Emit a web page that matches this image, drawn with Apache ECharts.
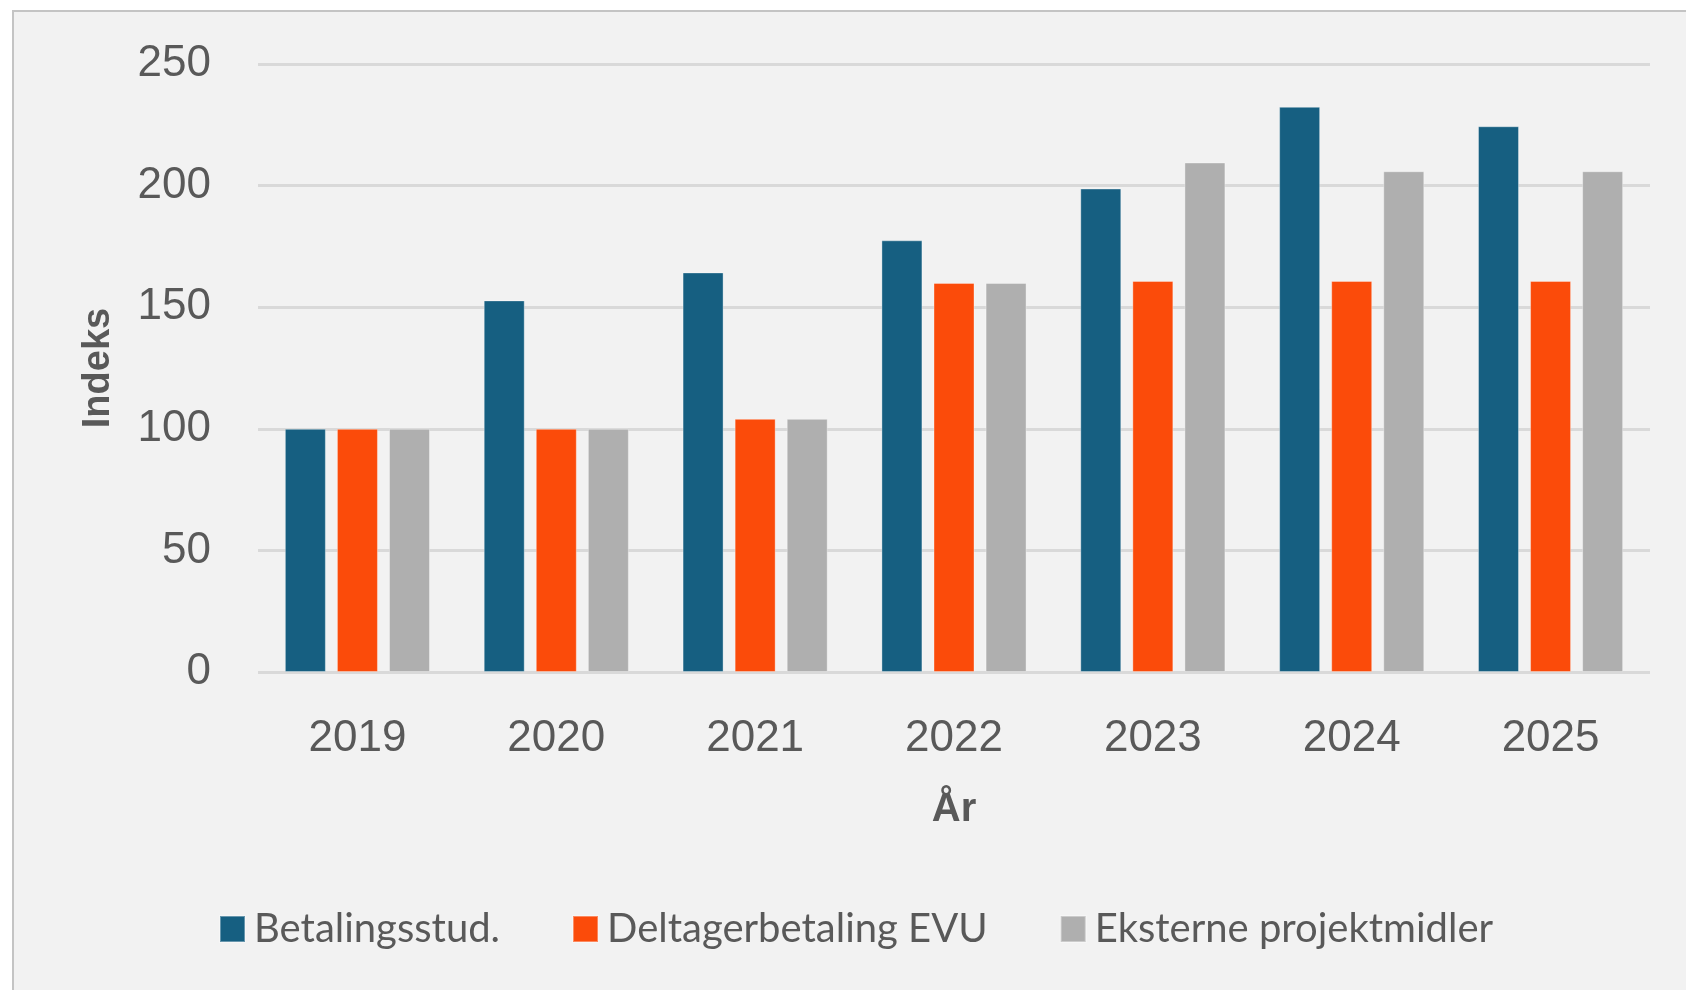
<!DOCTYPE html>
<html>
<head>
<meta charset="utf-8">
<script src="https://cdn.jsdelivr.net/npm/echarts@6/dist/echarts.min.js"></script>
<style>
  html, body { margin: 0; padding: 0; background: #ffffff; }
  #panel {
    position: absolute; left: 12px; top: 10px; width: 1690px; height: 1000px;
    background: #f2f2f2; border-left: 2px solid #c4c4c4; border-top: 2px solid #c4c4c4;
  }
  #chart { position: absolute; left: 0; top: 0; width: 1686px; height: 990px; }
</style>
</head>
<body>
<div id="panel"></div>
<div id="chart"></div>
<script>
const years = ["2019", "2020", "2021", "2022", "2023", "2024", "2025"];
const betalingsstud = [100, 152.8, 164.3, 177.5, 198.8, 232.4, 224.4];
const deltagerbetaling = [100, 100, 104.1, 160, 160.8, 160.8, 160.8];
const eksterne = [100, 100, 104.1, 160, 209.5, 205.9, 205.9];
const yTicks = [0, 50, 100, 150, 200, 250];

const textColor = "#595959";
const chart = echarts.init(document.getElementById("chart"), null, { renderer: "canvas" });

function bar(name, data, color) {
  return {
    name: name,
    type: "bar",
    data: data,
    barWidth: 41,
    barGap: "27%",
    itemStyle: { color: color, borderColor: "rgba(255,255,255,0.35)", borderWidth: 1 }
  };
}

chart.setOption({
  backgroundColor: "transparent",
  animation: false,
  grid: { left: 258, right: 36, top: 64, bottom: 318, containLabel: false },
  legend: {
    left: 214,
    top: 904,
    itemWidth: 25,
    itemHeight: 26,
    itemGap: 72,
    icon: "rect",
    textStyle: { color: textColor, fontFamily: "Lato", fontSize: 40, padding: [0, 0, 0, 4] },
    data: ["Betalingsstud.", "Deltagerbetaling EVU", "Eksterne projektmidler"]
  },
  xAxis: {
    type: "category",
    data: years,
    name: "År",
    nameLocation: "middle",
    nameGap: 118,
    nameTextStyle: { color: textColor, fontFamily: "Liberation Sans", fontSize: 40, fontWeight: "bold" },
    axisLine: { show: false },
    axisTick: { show: false },
    axisLabel: { color: textColor, fontFamily: "Liberation Sans", fontSize: 44, margin: 45 }
  },
  yAxis: {
    type: "value",
    min: yTicks[0],
    max: yTicks[yTicks.length - 1],
    interval: 50,
    name: "Indeks",
    nameLocation: "middle",
    nameGap: 140,
    nameTextStyle: { color: textColor, fontFamily: "Liberation Sans", fontSize: 38, fontWeight: "bold" },
    axisLine: { show: false },
    axisTick: { show: false },
    axisLabel: { color: textColor, fontFamily: "Liberation Sans", fontSize: 44, margin: 47 },
    splitLine: { lineStyle: { color: "#d9d9d9", width: 3 } }
  },
  series: [
    bar("Betalingsstud.", betalingsstud, "#165f81"),
    bar("Deltagerbetaling EVU", deltagerbetaling, "#fb4b0a"),
    bar("Eksterne projektmidler", eksterne, "#afafaf")
  ]
});
</script>
</body>
</html>
